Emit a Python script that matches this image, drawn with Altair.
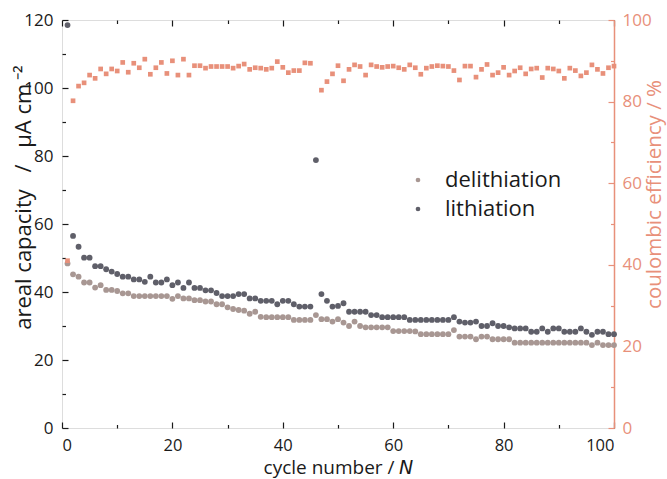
import altair as alt
import pandas as pd

# ---------------- data ----------------
cycles = list(range(1, 101))

lithiation = [
    118.5, 56.5, 53.3, 50.1, 50.1, 47.6, 47.6, 46.7, 46.0, 45.3,
    44.5, 44.5, 43.7, 43.7, 43.0, 44.5, 42.8, 42.8, 43.7, 42.0,
    42.8, 41.2, 42.8, 41.2, 41.2, 40.5, 40.5, 39.7, 38.8, 38.8,
    38.8, 39.4, 39.4, 38.1, 38.1, 37.4, 37.4, 37.4, 36.4, 37.4,
    37.4, 36.4, 35.7, 35.7, 35.7, 78.8, 39.4, 37.4, 35.7, 35.9,
    36.7, 34.2, 34.2, 34.2, 34.2, 33.2, 33.2, 32.6, 32.6, 32.6,
    32.6, 32.6, 31.8, 31.8, 31.8, 31.8, 31.8, 31.8, 31.8, 31.8,
    32.6, 31.3, 31.0, 31.0, 31.3, 30.0, 30.0, 30.8, 30.0, 30.0,
    29.6, 29.3, 29.3, 29.3, 28.3, 28.3, 29.3, 28.3, 29.3, 29.3,
    28.3, 28.3, 28.3, 29.3, 28.3, 27.4, 28.3, 28.3, 27.6, 27.6,
]

delithiation = [
    48.4, 45.2, 44.5, 42.8, 42.8, 41.3, 42.0, 40.6, 40.6, 40.3,
    39.6, 39.6, 38.8, 38.8, 38.8, 38.8, 38.8, 38.8, 38.8, 38.0,
    38.8, 38.1, 38.1, 37.6, 37.6, 37.2, 37.2, 36.4, 36.4, 35.5,
    35.0, 34.7, 34.5, 33.6, 34.2, 32.7, 32.6, 32.6, 32.6, 32.6,
    32.6, 31.8, 31.8, 31.8, 31.8, 33.2, 32.0, 32.0, 31.3, 32.0,
    31.0, 30.0, 31.3, 30.0, 29.6, 29.6, 29.6, 29.6, 29.6, 28.5,
    28.5, 28.5, 28.5, 28.4, 27.6, 27.6, 27.6, 27.6, 27.6, 27.6,
    28.8, 26.9, 26.9, 26.9, 26.1, 26.9, 26.9, 26.1, 26.1, 26.1,
    26.1, 25.1, 25.1, 25.1, 25.1, 25.1, 25.1, 25.1, 25.1, 25.1,
    25.1, 25.1, 25.1, 25.1, 25.1, 24.4, 25.1, 24.4, 24.4, 24.4,
]

coulombic_eff = [
    41.0, 80.2, 83.8, 84.6, 86.5, 85.7, 88.0, 86.8, 88.0, 87.5,
    89.6, 87.2, 89.4, 88.3, 90.4, 86.7, 88.3, 89.6, 86.9, 90.0,
    86.5, 90.4, 86.5, 88.8, 88.8, 88.2, 88.6, 88.6, 88.6, 88.6,
    88.2, 88.7, 89.2, 87.9, 88.3, 88.2, 87.9, 88.2, 89.8, 88.4,
    87.1, 87.6, 87.6, 89.5, 89.4, None, 82.8, 84.9, 86.8, 88.8,
    85.1, 87.9, 89.0, 88.6, 86.5, 89.0, 88.6, 88.4, 88.6, 88.7,
    88.3, 87.9, 89.0, 88.3, 86.7, 88.2, 88.6, 88.8, 88.7, 88.6,
    87.6, 85.3, 88.7, 88.7, 86.0, 87.9, 89.1, 86.5, 87.1, 88.4,
    86.5, 87.5, 88.3, 86.8, 88.0, 88.2, 85.9, 88.2, 88.0, 87.5,
    85.7, 88.2, 87.6, 86.3, 87.1, 89.0, 87.9, 86.9, 88.3, 88.7,
]

series_names = ["delithiation", "lithiation"]

x_major = [0, 20, 40, 60, 80, 100]
x_minor = [10, 30, 50, 70, 90]
cap_major = [0, 20, 40, 60, 80, 100, 120]
cap_minor = [10, 30, 50, 70, 90, 110]
ce_major = [0, 20, 40, 60, 80, 100]
ce_minor = [10, 30, 50, 70, 90]

# ---------------- style ----------------
FONT = "Open Sans"
BLACK = "#1a1a1a"
SALMON = "#E8907A"
C_DELI = "#A89793"
C_LITH = "#5F5F69"
MAJ, MIN = 6, 3.5

df = pd.DataFrame({
    "cycle": cycles,
    "delithiation": delithiation,
    "lithiation": lithiation,
    "ce": coulombic_eff,
})

xs = alt.Scale(domain=[0, 100], nice=False, zero=False)
cap_s = alt.Scale(domain=[0, 120], nice=False)
ce_s = alt.Scale(domain=[0, 100], nice=False)

common = dict(domain=False, grid=False, tickWidth=1.2)

x_bottom = alt.X(
    "cycle:Q", scale=xs, title="cycle number / 𝘕",
    axis=alt.Axis(orient="bottom", values=x_major, tickSize=MAJ, offset=-MAJ,
                  tickColor=BLACK, labelColor=BLACK, labelFont=FONT,
                  labelFontSize=16.5, labelPadding=9, titleFont=FONT,
                  titleFontSize=19, titleFontWeight="normal", titleColor=BLACK,
                  titlePadding=5, **common))
y_left = alt.Y(
    "value:Q", scale=cap_s, title="areal capacity \u2002/\u2002 μA cm\u2009⁻²",
    axis=alt.Axis(orient="left", values=cap_major, tickSize=MAJ, offset=-MAJ,
                  tickColor=BLACK, labelColor=BLACK, labelFont=FONT,
                  labelFontSize=17, labelPadding=9, titleFont=FONT,
                  titleFontSize=22, titleFontWeight="normal", titleColor=BLACK,
                  titleX=-45, titleY=177, titleAngle=270,
                  titleBaseline="middle", titleAlign="center", **common))

cap = alt.Chart(df).transform_fold(
    series_names, as_=["series", "value"]
).mark_point(filled=True, size=34, opacity=1).encode(
    x=x_bottom,
    y=y_left,
    color=alt.Color(
        "series:N",
        scale=alt.Scale(domain=series_names, range=[C_DELI, C_LITH]),
        legend=alt.Legend(orient="none", legendX=345, legendY=149, title=None,
                          labelFont=FONT, labelFontSize=22, labelColor=BLACK,
                          symbolSize=22, symbolType="circle", labelOffset=16,
                          rowPadding=7, symbolStrokeWidth=0),
    ),
)

ce = alt.Chart(df).mark_square(size=22, opacity=1, color=SALMON).encode(
    x=alt.X("cycle:Q", scale=xs, axis=None),
    y=alt.Y("ce:Q", scale=ce_s, title="coulombic efficiency / %",
            axis=alt.Axis(orient="right", values=ce_major, tickSize=MAJ,
                          offset=-MAJ, tickColor=SALMON, labelColor=SALMON,
                          labelFont=FONT, labelFontSize=17, labelPadding=8,
                          titleFont=FONT, titleFontSize=20.5,
                          titleFontWeight="normal", titleColor=SALMON,
                          titleAngle=270, titleX=46, titleY=174,
                          titleBaseline="middle", titleAlign="center",
                          **common)),
)

ghost = alt.Chart(df).mark_point(opacity=0, size=1)


def tick_axis(orient, values, size, color):
    return alt.Axis(orient=orient, values=values, tickSize=size, offset=-size,
                    tickColor=color, labels=False, **common)


l3 = ghost.encode(
    x=alt.X("cycle:Q", scale=xs, title=None,
            axis=tick_axis("top", x_major, MAJ, BLACK)),
    y=alt.Y("lithiation:Q", scale=cap_s, title=None,
            axis=tick_axis("left", cap_minor, MIN, BLACK)),
)
l4 = ghost.encode(
    x=alt.X("cycle:Q", scale=xs, title=None,
            axis=tick_axis("bottom", x_minor, MIN, BLACK)),
    y=alt.Y("ce:Q", scale=ce_s, title=None,
            axis=tick_axis("right", ce_minor, MIN, SALMON)),
)
l5 = ghost.encode(
    x=alt.X("cycle:Q", scale=xs, title=None,
            axis=tick_axis("top", x_minor, MIN, BLACK)),
    y=alt.Y("ce:Q", scale=ce_s, title=None,
            axis=alt.Axis(orient="right", ticks=False, labels=False, domain=True,
                          domainColor=SALMON, domainWidth=1.5, grid=False)),
)

chart = alt.layer(l3, l4, l5, cap, ce).resolve_scale(
    y="independent"
).resolve_axis(
    x="independent", y="independent"
).properties(
    width=552, height=408,
    autosize=alt.AutoSizeParams(type="none"),
    padding={"left": 62, "top": 20, "right": 53, "bottom": 51},
).configure_view(
    stroke=BLACK, strokeWidth=1.5
).configure(background="white")

chart.save("out.html", embed_options={"renderer": "svg", "actions": False})
